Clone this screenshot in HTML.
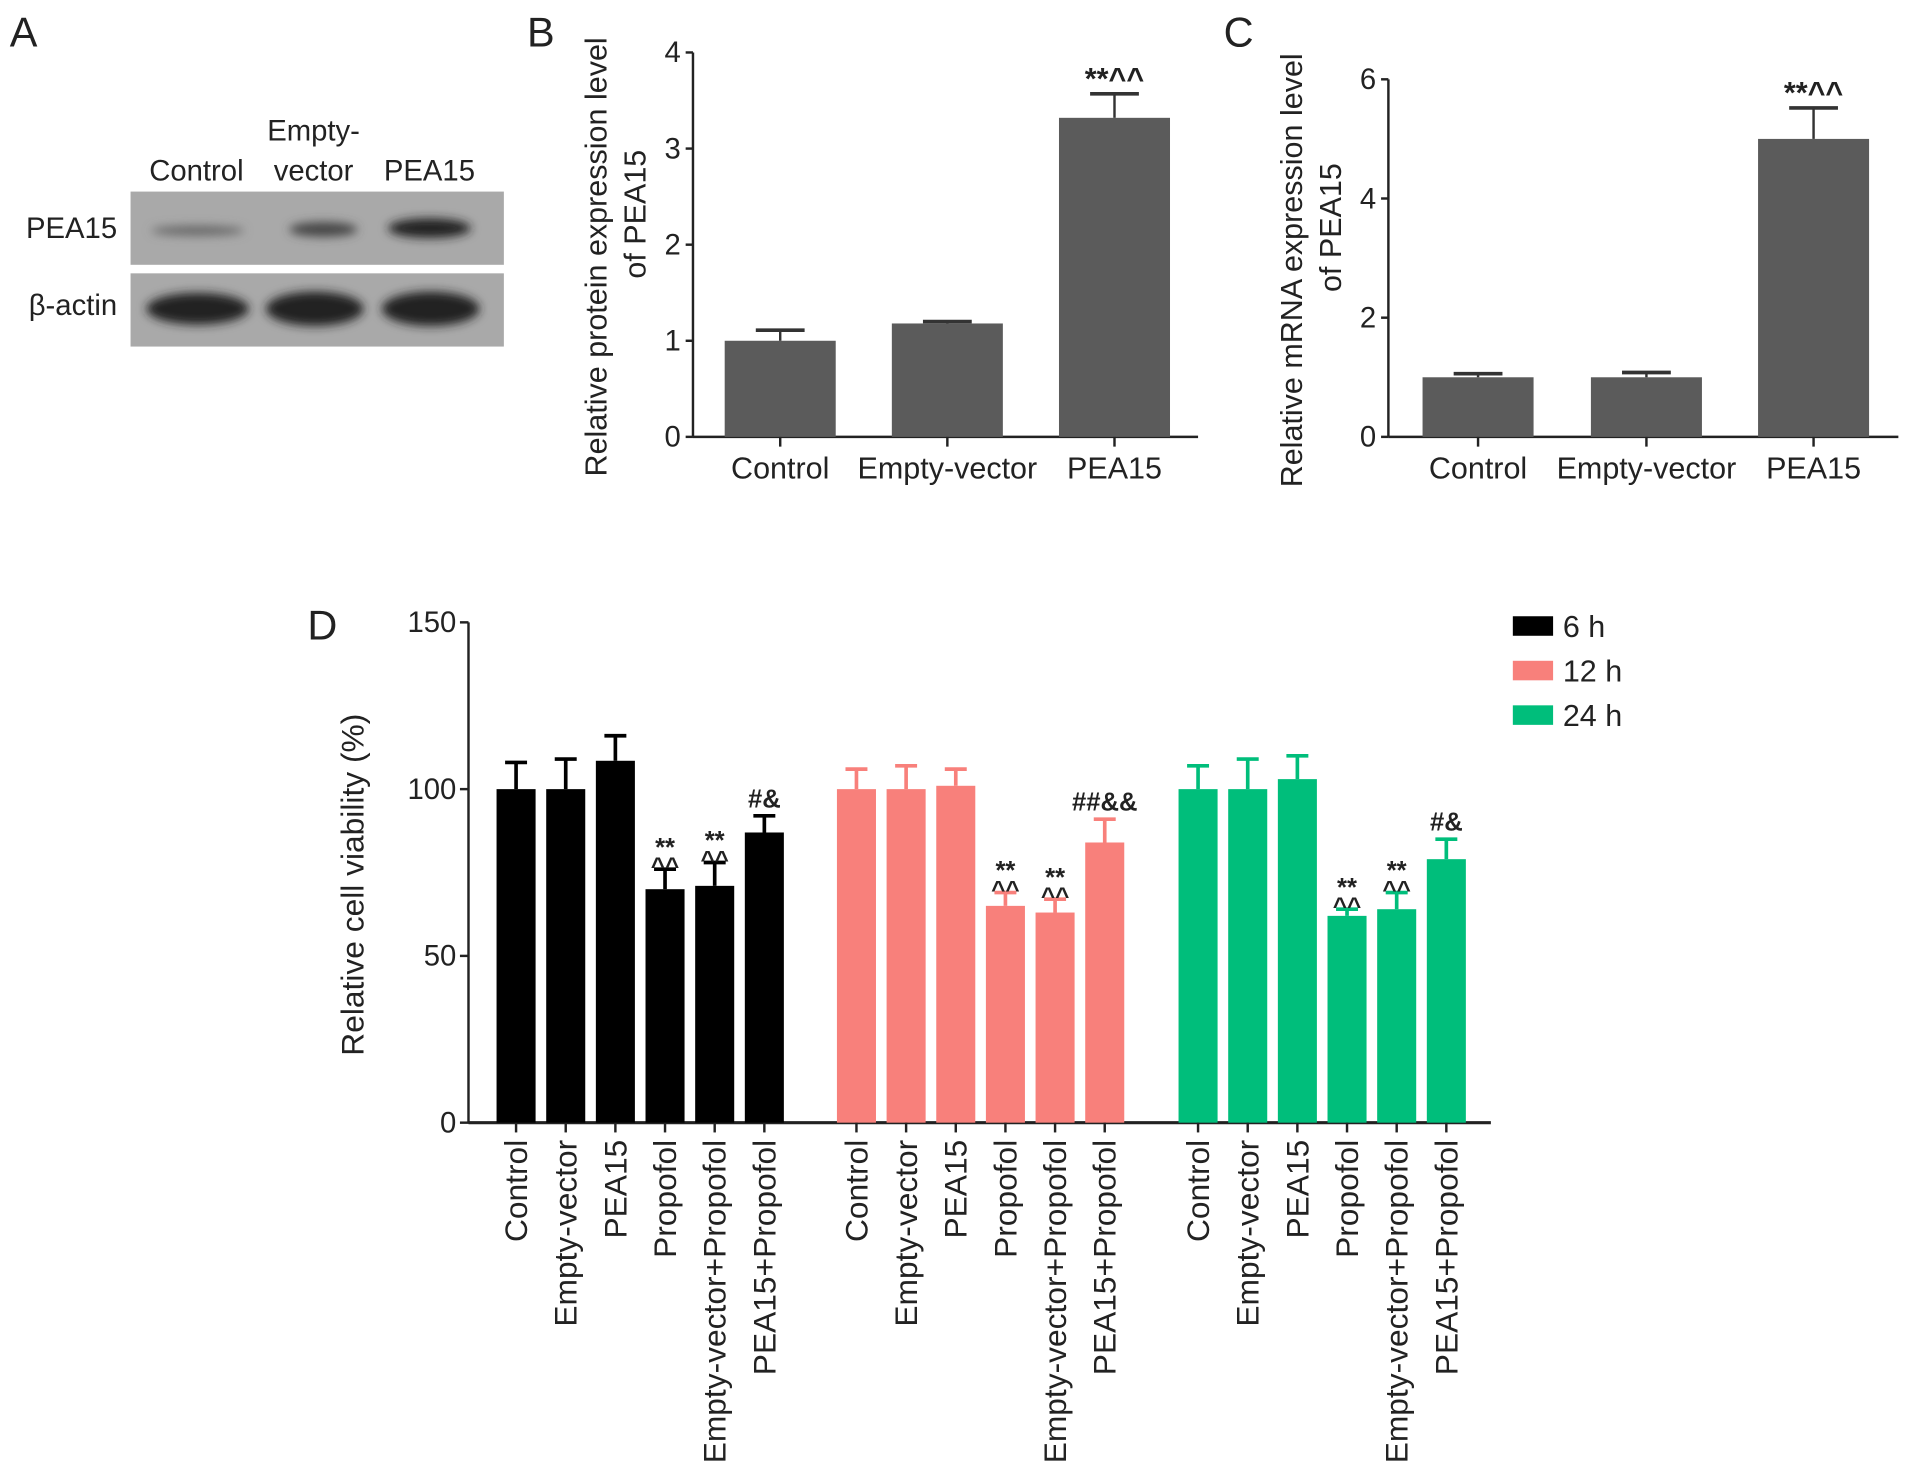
<!DOCTYPE html>
<html><head><meta charset="utf-8"><style>
html,body{margin:0;padding:0;background:#fff}
svg{display:block}
text{font-family:"Liberation Sans",Arial,sans-serif;fill:#222}
</style></head><body>
<svg id="fig" width="1913" height="1479" viewBox="0 0 1568 1212" preserveAspectRatio="none" xmlns="http://www.w3.org/2000/svg">
<g>
<text x="8" y="38" font-size="34">A</text>
<text x="161" y="148" font-size="24" text-anchor="middle">Control</text>
<text x="257" y="115" font-size="24" text-anchor="middle">Empty-</text>
<text x="257" y="148" font-size="24" text-anchor="middle">vector</text>
<text x="352" y="148" font-size="24" text-anchor="middle">PEA15</text>
<text x="96" y="195" font-size="24" text-anchor="end">PEA15</text>
<text x="96" y="258" font-size="24" text-anchor="end">β-actin</text>
<defs><filter id="bl"><feGaussianBlur stdDeviation="4"/></filter></defs>
<rect x="107" y="157" width="306" height="60" fill="#a9a9a9"/>
<rect x="107" y="224" width="306" height="60" fill="#a9a9a9"/>
<g filter="url(#bl)">
<ellipse cx="162" cy="189" rx="38" ry="4" fill="#666"/>
<ellipse cx="265" cy="188" rx="28" ry="6" fill="#444"/>
<ellipse cx="352" cy="187" rx="34" ry="8" fill="#222"/>
<ellipse cx="162" cy="253" rx="42" ry="13" fill="#222"/>
<ellipse cx="258" cy="253" rx="40" ry="14" fill="#222"/>
<ellipse cx="353" cy="253" rx="40" ry="14" fill="#222"/>
</g>
</g>
<g id="pb"></g>
<g id="pc"></g>
<g id="pd"></g>
</svg>
<script>
const bCategories=["Control","Empty-vector","PEA15"];
const bValues=[1.0,1.18,3.32];
const bErrors=[0.11,0.02,0.25];
const bTicks=[0,1,2,3,4];
const cCategories=["Control","Empty-vector","PEA15"];
const cValues=[1.0,1.0,5.0];
const cErrors=[0.06,0.08,0.52];
const cTicks=[0,2,4,6];
const dCategories=["Control","Empty-vector","PEA15","Propofol","Empty-vector+Propofol","PEA15+Propofol"];
const dSeriesNames=["6 h","12 h","24 h"];
const d6h=[100,100,108.5,70,71,87];
const d12h=[100,100,101,65,63,84];
const d24h=[100,100,103,62,64,79];
const d6hErr=[8,9,7.5,6,7,5];
const d12hErr=[6,7,5,4,4,7];
const d24hErr=[7,9,7,2,5,6];
const dAnnot=[["","","","**^^","**^^","#&"],["","","","**^^","**^^","##&&"],["","","","**^^","**^^","#&"]];
const dTicks=[0,50,100,150];
const NS="http://www.w3.org/2000/svg";
function mk(p,tag,a,txt){const e=document.createElementNS(NS,tag);for(const k in a)e.setAttribute(k,a[k]);if(txt!==undefined)e.textContent=txt;p.appendChild(e);return e;}
function small(p,cfg){
  const {g,ax,x1,y0,yTop,max,ticks,cats,vals,errs,starts,bw,titles,titleX,letter,letterX}=cfg;
  const y=v=>y0-(v/max)*(y0-yTop);
  mk(g,'text',{x:letterX,y:38,'font-size':34,},letter);
  let e=mk(g,'line',{x1:ax,y1:y(max),x2:ax,y2:y0,stroke:'#222','stroke-width':2});
  
  e=mk(g,'line',{x1:ax,y1:y0,x2:x1,y2:y0,stroke:'#222','stroke-width':2});
  
  ticks.forEach(t=>{mk(g,'line',{x1:ax-6,y1:y(t),x2:ax,y2:y(t),stroke:'#222','stroke-width':2});
    e=mk(g,'text',{x:ax-10,y:y(t)+8,'font-size':24,'text-anchor':'end'},t);
    });
  cats.forEach((c,i)=>{const x=starts[i],cx=x+bw/2;
    e=mk(g,'rect',{x:x,y:y(vals[i]),width:bw,height:y0-y(vals[i]),fill:'#5b5b5b'});
    
    const ye=y(vals[i]+errs[i]);
    mk(g,'line',{x1:cx,y1:y(vals[i]),x2:cx,y2:ye,stroke:'#333','stroke-width':2});
    mk(g,'line',{x1:cx-20,y1:ye,x2:cx+20,y2:ye,stroke:'#333','stroke-width':3});
    mk(g,'line',{x1:cx,y1:y0,x2:cx,y2:y0+8,stroke:'#222','stroke-width':2});
    e=mk(g,'text',{x:cx,y:y0+34,'font-size':25,'text-anchor':'middle'},c);
    
    if(i==2){e=mk(g,'text',{x:cx,y:ye-4,'font-size':25,'font-weight':'bold','text-anchor':'middle'},'**^^');
      }
  });
  titles.forEach((t,k)=>{const tx=titleX+k*32,ty=(y0+y(max))/2+ (k==0?10:-25);
    e=mk(g,'text',{x:tx,y:ty,'font-size':25,'text-anchor':'middle',transform:`rotate(-90 ${tx} ${ty})`},t);
    });
}
small(null,{g:document.getElementById('pb'),ax:568,x1:982,y0:358,yTop:43,max:4,ticks:bTicks,cats:bCategories,vals:bValues,errs:bErrors,starts:[594,731,868],bw:91,titles:["Relative protein expression level","of PEA15"],titleX:497,letter:"B",letterX:432});
small(null,{g:document.getElementById('pc'),ax:1138,x1:1556,y0:358,yTop:65,max:6,ticks:cTicks,cats:cCategories,vals:cValues,errs:cErrors,starts:[1166,1304,1441],bw:91,titles:["Relative mRNA expression level","of PEA15"],titleX:1067,letter:"C",letterX:1003});
(function(){
  const g=document.getElementById('pd');
  const ax=384,x1=1222,y0=920,yTop=510,max=150;
  const y=v=>y0-(v/max)*(y0-yTop);
  const groupStart=[423,702,982],step=40.7,bw=32;
  const colors=['#000000','#f8807b','#00be7b'];
  const series=[d6h,d12h,d24h],errs=[d6hErr,d12hErr,d24hErr];
  let e=mk(g,'text',{x:252,y:524,'font-size':34});e.textContent='D';
  
  e=mk(g,'line',{x1:ax,y1:yTop,x2:ax,y2:y0,stroke:'#222','stroke-width':2});
  
  e=mk(g,'line',{x1:ax,y1:y0,x2:x1,y2:y0,stroke:'#222','stroke-width':2.5});
  
  dTicks.forEach(t=>{mk(g,'line',{x1:ax-7,y1:y(t),x2:ax,y2:y(t),stroke:'#222','stroke-width':2});
    e=mk(g,'text',{x:ax-10,y:y(t)+8,'font-size':24,'text-anchor':'end'},t);
    });
  e=mk(g,'text',{x:298,y:725,'font-size':26,'text-anchor':'middle',transform:'rotate(-90 298 725)'},'Relative cell viability (%)');
  
  series.forEach((s,si)=>{
    dCategories.forEach((c,i)=>{
      const cx=groupStart[si]+i*step;
      e=mk(g,'rect',{x:cx-bw/2,y:y(s[i]),width:bw,height:y0-y(s[i]),fill:colors[si]});
      
      
      const ye=y(s[i]+errs[si][i]);
      mk(g,'line',{x1:cx,y1:y(s[i]),x2:cx,y2:ye,stroke:colors[si],'stroke-width':3});
      mk(g,'line',{x1:cx-9,y1:ye,x2:cx+9,y2:ye,stroke:colors[si],'stroke-width':3});
      mk(g,'line',{x1:cx,y1:y0,x2:cx,y2:y0+8,stroke:'#222','stroke-width':2});
      e=mk(g,'text',{x:cx+9,y:934,'font-size':26,'text-anchor':'end',transform:`rotate(-90 ${cx+9} 934)`},c);
      
      const a=dAnnot[si][i];
      if(a.startsWith('**')){
        e=mk(g,'text',{x:cx,y:ye-11,'font-size':21,'font-weight':'bold','text-anchor':'middle'},'**');
        
        e=mk(g,'text',{x:cx,y:ye+4,'font-size':20,'font-weight':'bold','text-anchor':'middle'},'^^');
        
      } else if(a){
        e=mk(g,'text',{x:cx,y:ye-7,'font-size':21,'font-weight':'bold','text-anchor':'middle'},a);
        
      }
    });
  });
  dSeriesNames.forEach((n,i)=>{const yy=505+i*36.5;
    e=mk(g,'rect',{x:1240,y:yy,width:33,height:16,fill:colors[i]});
    
    e=mk(g,'text',{x:1281,y:yy+17,'font-size':25},n);
    });
})();
</script>
</body></html>
